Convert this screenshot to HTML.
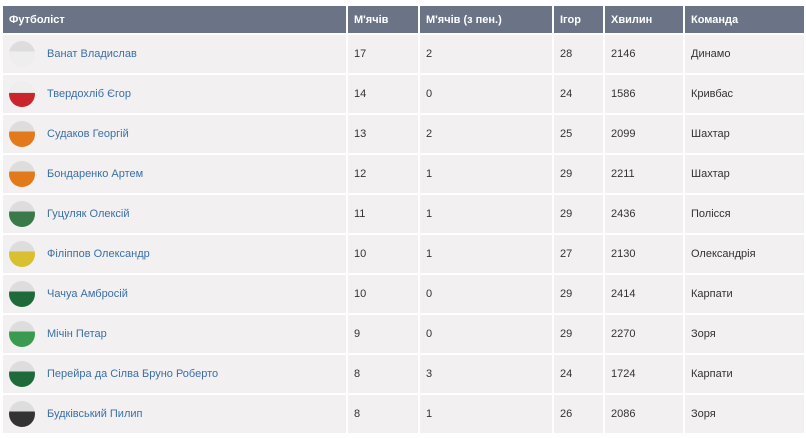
<!DOCTYPE html>
<html><head><meta charset="utf-8"><style>
body{margin:0;background:#fff;width:806px;height:438px;overflow:hidden;font-family:"Liberation Sans","DejaVu Sans",sans-serif;}
table{position:absolute;left:3px;top:6px;width:801px;border-collapse:collapse;font-size:11px;}
th{background:#6b7487;color:#fff;text-align:left;font-weight:bold;height:27px;padding:0 0 0 6px;border-left:2px solid #fff;font-size:11px;}
th:first-child{border-left:none}
td{background:#f2f0f0;color:#333;height:38px;padding:0 0 0 6px;border-left:2px solid #fff;border-top:2px solid #fff;}
td:first-child{border-left:none}
.nm{display:flex;align-items:center;height:38px}
.av{display:block;flex:none;width:26px;height:26px;border-radius:50%;margin-right:12px;background:#ccc;}
a{color:#3a70a8;text-decoration:none}
</style></head><body>
<table>
<colgroup><col style="width:344px"><col style="width:72px"><col style="width:134px"><col style="width:51px"><col style="width:80px"><col></colgroup>
<tr><th>Футболіст</th><th>М'ячів</th><th>М'ячів (з пен.)</th><th>Ігор</th><th>Хвилин</th><th>Команда</th></tr>
<tr><td><div class="nm"><span class="av" style="background:linear-gradient(#ddd 40%,#eee 41%)"></span><a>Ванат Владислав</a></div></td><td>17</td><td>2</td><td>28</td><td>2146</td><td>Динамо</td></tr>
<tr><td><div class="nm"><span class="av" style="background:linear-gradient(#eee 45%,#c8262c 46%)"></span><a>Твердохліб Єгор</a></div></td><td>14</td><td>0</td><td>24</td><td>1586</td><td>Кривбас</td></tr>
<tr><td><div class="nm"><span class="av" style="background:linear-gradient(#ddd 40%,#e27a1c 41%)"></span><a>Судаков Георгій</a></div></td><td>13</td><td>2</td><td>25</td><td>2099</td><td>Шахтар</td></tr>
<tr><td><div class="nm"><span class="av" style="background:linear-gradient(#ddd 40%,#e27a1c 41%)"></span><a>Бондаренко Артем</a></div></td><td>12</td><td>1</td><td>29</td><td>2211</td><td>Шахтар</td></tr>
<tr><td><div class="nm"><span class="av" style="background:linear-gradient(#ddd 40%,#3a7a4a 41%)"></span><a>Гуцуляк Олексій</a></div></td><td>11</td><td>1</td><td>29</td><td>2436</td><td>Полісся</td></tr>
<tr><td><div class="nm"><span class="av" style="background:linear-gradient(#ddd 40%,#d8c030 41%)"></span><a>Філіппов Олександр</a></div></td><td>10</td><td>1</td><td>27</td><td>2130</td><td>Олександрія</td></tr>
<tr><td><div class="nm"><span class="av" style="background:linear-gradient(#ddd 40%,#1e6a3a 41%)"></span><a>Чачуа Амбросій</a></div></td><td>10</td><td>0</td><td>29</td><td>2414</td><td>Карпати</td></tr>
<tr><td><div class="nm"><span class="av" style="background:linear-gradient(#ddd 40%,#3a9a50 41%)"></span><a>Мічін Петар</a></div></td><td>9</td><td>0</td><td>29</td><td>2270</td><td>Зоря</td></tr>
<tr><td><div class="nm"><span class="av" style="background:linear-gradient(#ddd 40%,#1e6a3a 41%)"></span><a>Перейра да Сілва Бруно Роберто</a></div></td><td>8</td><td>3</td><td>24</td><td>1724</td><td>Карпати</td></tr>
<tr><td><div class="nm"><span class="av" style="background:linear-gradient(#ddd 40%,#333 41%)"></span><a>Будківський Пилип</a></div></td><td>8</td><td>1</td><td>26</td><td>2086</td><td>Зоря</td></tr>
</table>
</body></html>
